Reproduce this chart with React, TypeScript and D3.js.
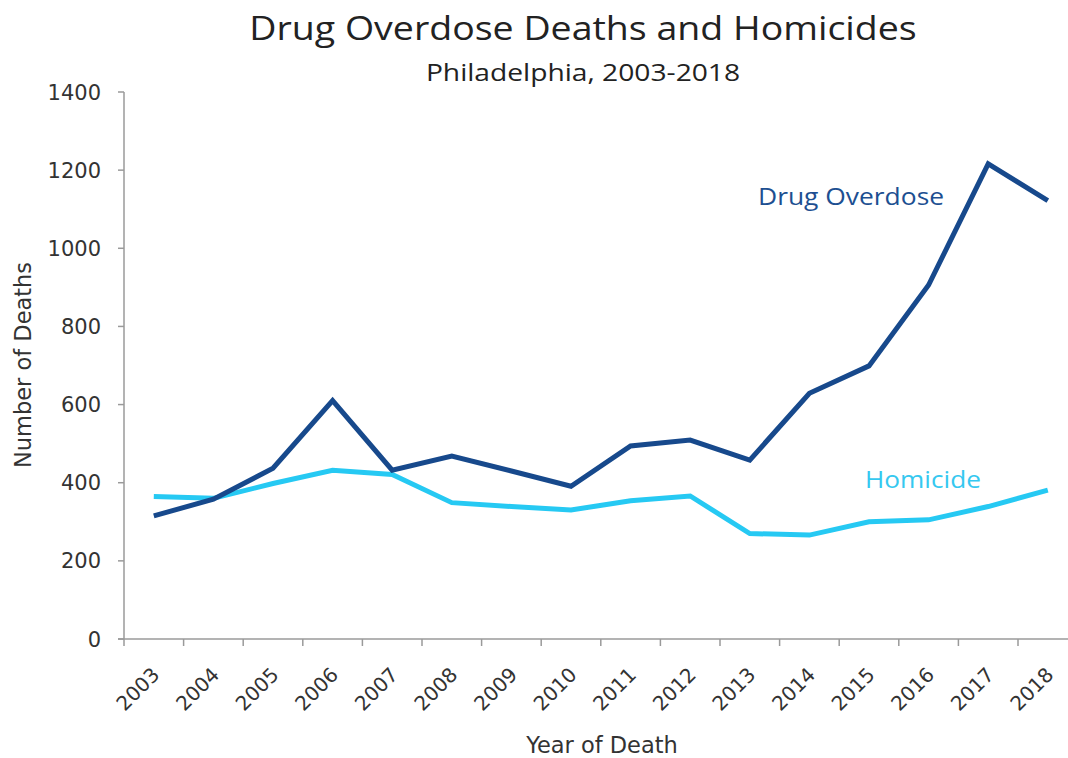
import React from "react";
import * as d3 from "d3";

const years = ["2003","2004","2005","2006","2007","2008","2009","2010","2011","2012","2013","2014","2015","2016","2017","2018"];
const overdose = [315, 358, 437, 610, 432, 468, 430, 391, 494, 509, 458, 629, 699, 906, 1216, 1122];
const homicide = [365, 360, 398, 432, 421, 349, 339, 330, 354, 366, 270, 266, 300, 305, 339, 381];
const yTicks = [0, 200, 400, 600, 800, 1000, 1200, 1400];

const W = 1068, H = 758;
const left = 124, bandW = 59.6;
const top = 92, bottom = 639;

export default function App() {
  const x = d3.scaleBand<string>().domain(years).range([left, left + bandW * years.length]).padding(0);
  const y = d3.scaleLinear().domain([0, 1400]).range([bottom, top]);
  const cx = (yr: string) => (x(yr) as number) + x.bandwidth() / 2;
  const line = d3.line<number>().x((_, i) => cx(years[i])).y((v) => y(v)).curve(d3.curveLinear);
  const axisColor = "#9a9a9a";
  const textColor = "#333";
  const labFont = "'DejaVu Sans', Verdana, sans-serif";
  const open = "'Open Sans', sans-serif";

  return (
    <div style={{ position: "fixed", left: 0, top: 0, background: "#fff" }}>
      <svg width={W} height={H} style={{ display: "block" }}>
        <rect width={W} height={H} fill="#fff" />
        <text transform="translate(583,40) scale(1.12,1)" textAnchor="middle" fontFamily={open} fontSize={33.5} fill="#222">Drug Overdose Deaths and Homicides</text>
        <text transform="translate(583,81) scale(1.2,1)" textAnchor="middle" fontFamily={open} fontSize={23.5} fill="#222">Philadelphia, 2003-2018</text>

        {/* y axis */}
        <line x1={left} x2={left} y1={top} y2={bottom} stroke={axisColor} strokeWidth={1.5} />
        {yTicks.map((t) => (
          <g key={t}>
            <line x1={left - 6} x2={left} y1={y(t)} y2={y(t)} stroke={axisColor} strokeWidth={1.5} />
            <text x={101} y={y(t)} dy="0.36em" textAnchor="end" fontFamily={labFont} fontSize={21} fill={textColor}>{t}</text>
          </g>
        ))}
        <text transform={`translate(31,${365}) rotate(-90)`} textAnchor="middle" fontFamily={labFont} fontSize={22.5} fill={textColor}>Number of Deaths</text>

        {/* x axis */}
        <line x1={left - 6} x2={W} y1={bottom} y2={bottom} stroke={axisColor} strokeWidth={1.5} />
        {years.map((yr) => (
          <line key={yr} x1={x(yr) as number} x2={x(yr) as number} y1={bottom} y2={bottom + 7} stroke={axisColor} strokeWidth={1.5} />
        ))}
        {years.map((yr) => (
          <text key={yr} transform={`translate(${cx(yr) + 7},${bottom + 37}) rotate(-45)`} textAnchor="end" fontFamily={labFont} fontSize={20} fill={textColor}>{yr}</text>
        ))}
        <text x={602} y={753} textAnchor="middle" fontFamily={labFont} fontSize={22.5} fill={textColor}>Year of Death</text>

        {/* lines */}
        <path d={line(homicide) || ""} fill="none" stroke="#26c9f3" strokeWidth={5} strokeLinejoin="miter" />
        <path d={line(overdose) || ""} fill="none" stroke="#17498c" strokeWidth={5} strokeLinejoin="miter" />

        <text transform="translate(758,205) scale(1.1,1)" fontFamily={open} fontSize={24} fill="#1d4f91">Drug Overdose</text>
        <text transform="translate(865,488) scale(1.14,1)" fontFamily={open} fontSize={23} fontWeight={500} fill="#35c8f0">Homicide</text>
      </svg>
    </div>
  );
}
